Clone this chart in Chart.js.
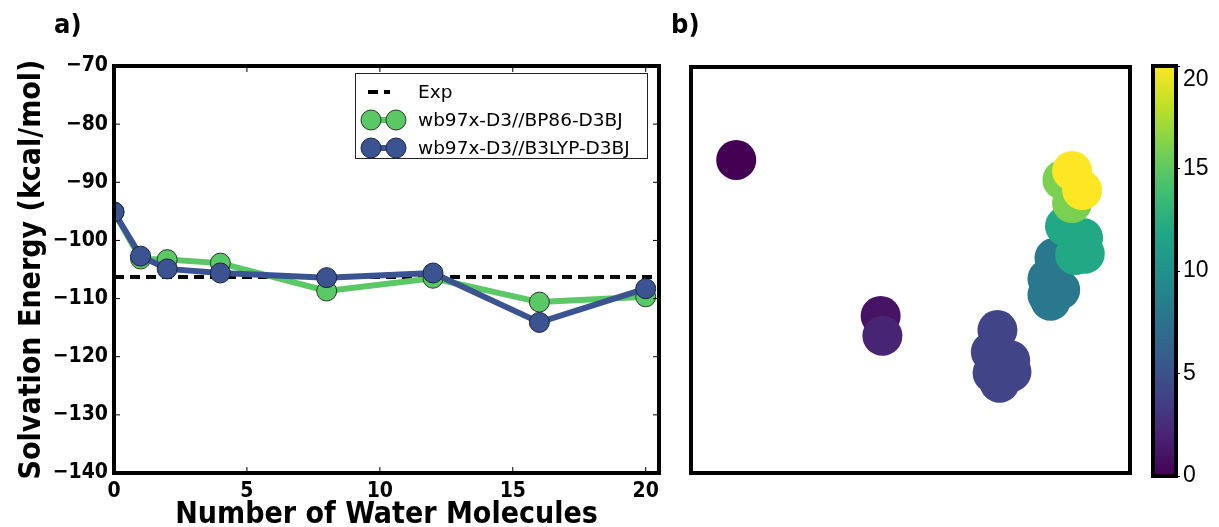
<!DOCTYPE html>
<html>
<head>
<meta charset="utf-8">
<title>Solvation energy</title>
<script src="https://cdn.jsdelivr.net/npm/chart.js@4.4.0/dist/chart.umd.min.js"></script>
<style>
    html, body { margin: 0; padding: 0; background: #fff; }
    #wrap { position: relative; width: 1219px; height: 527px; overflow: hidden; }
    #wrap canvas { position: absolute; top: 0; }
    #energyChart { left: 0; }
    #mapChart { left: 650px; }
    #barChart { left: 1140px; }
</style>
</head>
<body>
<div id="wrap">
    <canvas id="energyChart" width="680" height="527"></canvas>
    <canvas id="mapChart" width="500" height="527"></canvas>
    <canvas id="barChart" width="79" height="527"></canvas>
</div>
<script>
/* ---------- panel a: solvation energy vs number of waters ---------- */
const waters = [0, 1, 2, 4, 8, 12, 16, 20];
const bp86 = [-95.1, -103.2, -103.3, -103.9, -108.7, -106.5, -110.6, -109.7];
const b3lyp = [-95.1, -102.7, -104.9, -105.6, -106.4, -105.6, -114.1, -108.3];
const expValue = -106.3;
const xTicks = [0, 5, 10, 15, 20];
const yTicks = [-140, -130, -120, -110, -100, -90, -80, -70];

/* ---------- panel b: projected structures, coloured by water count ---------- */
const mapX = [10.3, 43.2, 43.6, 69.8, 68.3, 72.7, 73.0, 70.3, 68.7, 82.8, 81.2, 81.2, 81.9, 84.1, 85.2, 89.3, 89.7, 87.5, 84.6, 86.8, 86.8, 89.1];
const mapY = [77.1, 38.7, 33.8, 35.2, 29.8, 27.8, 24.9, 22.2, 24.6, 53.0, 47.8, 43.9, 42.4, 45.1, 60.8, 57.9, 54.0, 53.7, 72.2, 66.5, 74.4, 69.7];
const mapN = [0, 1, 2, 4, 4, 4, 4, 4, 4, 8, 8, 8, 8, 8, 12, 12, 12, 12, 16, 16, 20, 20];
const cbarTicks = [0, 5, 10, 15, 20];

const GREEN = '#5ac864';
const BLUE = '#3b5491';
const BOLD = '"DejaVu Sans Condensed", "DejaVu Sans", sans-serif';

// viridis, sampled every 0.1
const viridis = ['#440154', '#482475', '#414487', '#355f8d', '#2a788e', '#21918c',
                 '#22a884', '#44bf70', '#7ad151', '#bddf26', '#fde725'];

function hexToRgb(h) {
    return [parseInt(h.substr(1, 2), 16), parseInt(h.substr(3, 2), 16), parseInt(h.substr(5, 2), 16)];
}

function viridisColor(t) {
    t = Math.max(0, Math.min(1, t));
    var pos = t * (viridis.length - 1);
    var i = Math.min(Math.floor(pos), viridis.length - 2);
    var f = pos - i;
    var a = hexToRgb(viridis[i]), b = hexToRgb(viridis[i + 1]);
    var c = a.map(function (v, k) { return Math.round(v + (b[k] - v) * f); });
    return 'rgb(' + c.join(',') + ')';
}

function minus(v) {
    return String(v).replace('-', '\u2212');
}

// thick black frame around the plot area
const framePlugin = {
    id: 'frame',
    afterDraw: function (chart, args, opts) {
        const a = chart.chartArea;
        const ctx = chart.ctx;
        ctx.save();
        ctx.strokeStyle = '#000';
        ctx.lineWidth = opts.width || 4;
        ctx.strokeRect(a.left, a.top, a.right - a.left, a.bottom - a.top);
        ctx.restore();
    }
};

// panel letter in the top left corner
const letterPlugin = {
    id: 'letter',
    afterDraw: function (chart, args, opts) {
        if (!opts.text) return;
        const ctx = chart.ctx;
        ctx.save();
        ctx.font = 'bold 27px ' + BOLD;
        ctx.fillStyle = '#000';
        ctx.textBaseline = 'middle';
        ctx.fillText(opts.text, opts.x, opts.y);
        ctx.restore();
    }
};

// short inward ticks on all four sides
const innerTicks = {
    id: 'innerTicks',
    afterDatasetsDraw: function (chart) {
        const a = chart.chartArea;
        const ctx = chart.ctx;
        const len = 6;
        ctx.save();
        ctx.strokeStyle = '#000';
        ctx.lineWidth = 1;
        ctx.beginPath();
        chart.scales.x.ticks.forEach(function (t) {
            const px = chart.scales.x.getPixelForValue(t.value);
            ctx.moveTo(px, a.bottom); ctx.lineTo(px, a.bottom - len);
            ctx.moveTo(px, a.top); ctx.lineTo(px, a.top + len);
        });
        chart.scales.y.ticks.forEach(function (t) {
            const py = chart.scales.y.getPixelForValue(t.value);
            ctx.moveTo(a.left, py); ctx.lineTo(a.left + len, py);
            ctx.moveTo(a.right, py); ctx.lineTo(a.right - len, py);
        });
        ctx.stroke();
        ctx.restore();
    }
};

// matplotlib-like legend: two markers joined by the line
const boxLegend = {
    id: 'boxLegend',
    afterDraw: function (chart) {
        const a = chart.chartArea;
        const ctx = chart.ctx;
        const left = a.left + 241, top = a.top + 7;
        const w = 292, h = 85, rowH = 28;
        ctx.save();
        ctx.fillStyle = '#fff';
        ctx.fillRect(left, top, w, h);
        ctx.strokeStyle = '#222';
        ctx.lineWidth = 1;
        ctx.strokeRect(left + 0.5, top + 0.5, w, h);
        chart.data.datasets.forEach(function (ds, i) {
            const y = top + 19 + i * rowH;
            const x0 = left + 16, x1 = left + 41;
            ctx.save();
            ctx.strokeStyle = ds.borderColor;
            ctx.lineWidth = ds.borderWidth;
            if (ds.borderDash) ctx.setLineDash(ds.borderDash);
            ctx.beginPath();
            ctx.moveTo(ds.borderDash ? x0 - 3 : x0, y);
            ctx.lineTo(ds.borderDash ? x1 - 6 : x1, y);
            ctx.stroke();
            ctx.restore();
            if (ds.pointRadius > 0) {
                [x0, x1].forEach(function (cx) {
                    ctx.beginPath();
                    ctx.arc(cx, y, ds.pointRadius, 0, Math.PI * 2);
                    ctx.fillStyle = ds.pointBackgroundColor;
                    ctx.fill();
                    ctx.lineWidth = 1;
                    ctx.strokeStyle = ds.pointBorderColor;
                    ctx.stroke();
                });
            }
            ctx.fillStyle = '#000';
            ctx.font = '18.5px "DejaVu Sans", sans-serif';
            ctx.textBaseline = 'middle';
            ctx.fillText(ds.label, left + 63, y + 1);
        });
        ctx.restore();
    }
};

function pairs(xs, ys) {
    return xs.map(function (x, i) { return { x: x, y: ys[i] }; });
}

new Chart(document.getElementById('energyChart'), {
    type: 'line',
    data: {
        datasets: [
            {
                label: 'Exp',
                data: [{ x: 0, y: expValue }, { x: 20.5, y: expValue }],
                borderColor: '#000',
                borderWidth: 4,
                borderDash: [10, 6],
                pointRadius: 0,
                order: 3
            },
            {
                label: 'wb97x-D3//BP86-D3BJ',
                data: pairs(waters, bp86),
                borderColor: GREEN,
                borderWidth: 6,
                pointRadius: 10,
                pointBackgroundColor: GREEN,
                pointBorderColor: '#2b3a2b',
                pointBorderWidth: 1,
                order: 2
            },
            {
                label: 'wb97x-D3//B3LYP-D3BJ',
                data: pairs(waters, b3lyp),
                borderColor: BLUE,
                borderWidth: 6,
                pointRadius: 10,
                pointBackgroundColor: BLUE,
                pointBorderColor: '#1c2540',
                pointBorderWidth: 1,
                order: 1
            }
        ]
    },
    options: {
        responsive: false,
        animation: false,
        layout: { padding: { top: 66, right: 21, left: 0, bottom: 0 } },
        plugins: {
            legend: { display: false },
            tooltip: { enabled: false },
            letter: { text: 'a)', x: 54, y: 26 }
        },
        scales: {
            x: {
                type: 'linear',
                min: 0,
                max: 20.5,
                afterBuildTicks: function (s) { s.ticks = xTicks.map(function (v) { return { value: v }; }); },
                afterFit: function (s) { s.height = 54; },
                grid: { display: false, drawTicks: false },
                border: { display: false },
                ticks: { color: '#000', padding: 6, font: { family: BOLD, size: 21, weight: 'bold' } },
                title: {
                    display: true,
                    text: 'Number of Water Molecules',
                    color: '#000',
                    padding: { top: 0, bottom: -3 },
                    font: { family: BOLD, size: 30, weight: 'bold', lineHeight: 1 }
                }
            },
            y: {
                type: 'linear',
                min: -140,
                max: -70,
                afterBuildTicks: function (s) { s.ticks = yTicks.map(function (v) { return { value: v }; }); },
                afterFit: function (s) { s.width = 114; },
                grid: { display: false, drawTicks: false },
                border: { display: false },
                ticks: {
                    color: '#000',
                    padding: 6,
                    font: { family: BOLD, size: 21, weight: 'bold' },
                    callback: function (v) { return minus(v); }
                },
                title: {
                    display: true,
                    text: 'Solvation Energy (kcal/mol)',
                    color: '#000',
                    padding: { top: 17, bottom: 0 },
                    font: { family: BOLD, size: 30, weight: 'bold', lineHeight: 1 }
                }
            }
        }
    },
    plugins: [innerTicks, framePlugin, boxLegend, letterPlugin]
});

/* ---------- panel b ---------- */
new Chart(document.getElementById('mapChart'), {
    type: 'scatter',
    data: {
        datasets: [{
            data: pairs(mapX, mapY),
            pointRadius: 20,
            pointBorderWidth: 0,
            pointBackgroundColor: function (ctx) { return viridisColor(mapN[ctx.dataIndex] / 20); }
        }]
    },
    options: {
        responsive: false,
        animation: false,
        layout: { padding: { top: 67, right: 12, left: 41, bottom: 54 } },
        plugins: {
            legend: { display: false },
            tooltip: { enabled: false },
            letter: { text: 'b)', x: 21, y: 26 }
        },
        scales: {
            x: { type: 'linear', min: 0, max: 100, display: false },
            y: { type: 'linear', min: 0, max: 100, display: false }
        }
    },
    plugins: [framePlugin, letterPlugin]
});

/* ---------- colour bar ---------- */
new Chart(document.getElementById('barChart'), {
    type: 'bar',
    data: {
        labels: ['n'],
        datasets: [{
            data: [[cbarTicks[0], cbarTicks[cbarTicks.length - 1]]],
            barPercentage: 1,
            categoryPercentage: 1,
            borderWidth: 0,
            backgroundColor: function (ctx) {
                const chart = ctx.chart;
                if (!chart.chartArea) return viridis[5];
                const y = chart.scales.y;
                const g = chart.ctx.createLinearGradient(0, y.getPixelForValue(0), 0, y.getPixelForValue(20));
                viridis.forEach(function (c, i) { g.addColorStop(i / (viridis.length - 1), c); });
                return g;
            }
        }]
    },
    options: {
        responsive: false,
        animation: false,
        layout: { padding: { top: 66, right: 0, left: 13, bottom: 51 } },
        plugins: {
            legend: { display: false },
            tooltip: { enabled: false },
            frame: { width: 4 }
        },
        scales: {
            x: { display: false },
            y: {
                position: 'right',
                min: 0,
                max: 20,
                afterFit: function (s) { s.width = 43; },
                grid: { drawOnChartArea: false, drawTicks: true, tickLength: 4, color: '#000' },
                border: { display: false },
                ticks: {
                    stepSize: 2.5,
                    color: '#000',
                    padding: 3,
                    font: { family: '"Liberation Sans", Arial, sans-serif', size: 23 },
                    callback: function (v) {
                        if (cbarTicks.indexOf(v) < 0) return '';
                        // top label sits just inside the bar end
                        return v === cbarTicks[cbarTicks.length - 1] ? ['', String(v)] : String(v);
                    }
                }
            }
        }
    },
    plugins: [framePlugin]
});
</script>
</body>
</html>
